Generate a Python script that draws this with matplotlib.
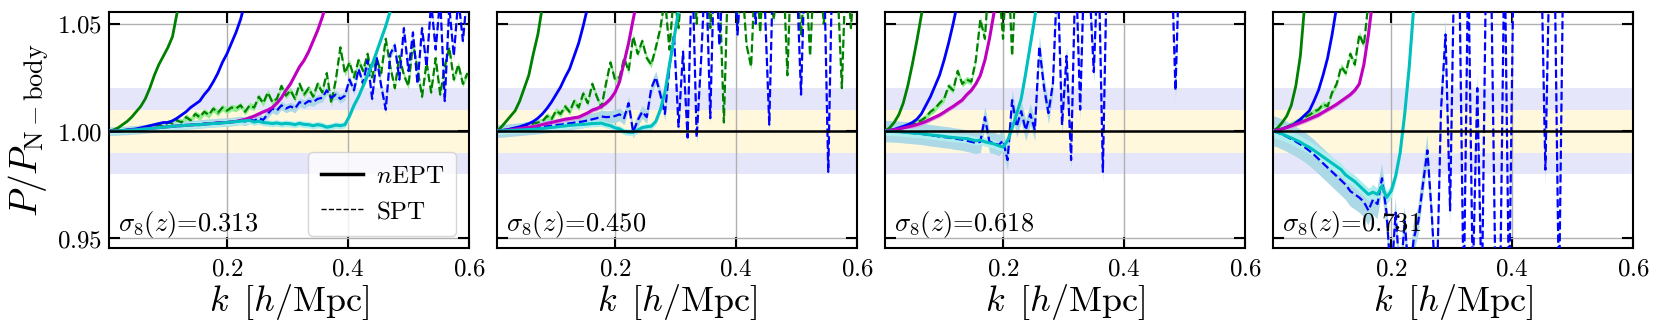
import numpy as np
import matplotlib
matplotlib.use('Agg')
import matplotlib.pyplot as plt
from matplotlib.lines import Line2D

plt.rcParams['mathtext.fontset'] = 'cm'
plt.rcParams['font.family'] = 'serif'

# k grid of the measured spectra (h/Mpc)
k = 0.005 + 0.0075 * np.arange(80)

sigma8 = ['0.313', '0.450', '0.618', '0.731']
xticks = [0.2, 0.4, 0.6]
xtick_labels = ['$0.2$', '$0.4$', '$0.6$']
yticks = [0.95, 1.0, 1.05]
ytick_labels = ['$0.95$', '$1.00$', '$1.05$']

# ---- panel 1, sigma8=0.313 ----
nept_g1 = [1.000, 1.0005, 1.0015, 1.003, 1.0045, 1.0065, 1.009, 1.0115, 1.015, 1.020,
           1.026, 1.031, 1.035, 1.039, 1.044, 1.055, 1.065]
nept_b1 = [1.0, 1.0, 1.0, 1.0003, 1.0005, 1.0008, 1.001, 1.0015, 1.002, 1.0025,
           1.003, 1.0035, 1.004, 1.004, 1.0048, 1.006, 1.0075, 1.009, 1.011, 1.0125,
           1.014, 1.017, 1.0195, 1.023, 1.027, 1.032, 1.036, 1.041, 1.046, 1.052, 1.06]
nept_m1 = [1.0, 1.0, 1.0001, 1.0002, 1.0003, 1.0005, 1.0006, 1.0008, 1.001, 1.0012,
           1.0014, 1.0016, 1.0018, 1.002, 1.0022, 1.0024, 1.0025, 1.0027, 1.0028, 1.003,
           1.003, 1.0032, 1.0034, 1.0036, 1.0037, 1.0039, 1.004, 1.0042, 1.0045, 1.005,
           1.0055, 1.0062, 1.007, 1.008, 1.009, 1.0098, 1.011, 1.013, 1.0155, 1.019,
           1.022, 1.026, 1.030, 1.033, 1.037, 1.042, 1.047, 1.053, 1.06]
nept_c1 = [1.0, 1.0, 1.0001, 1.0002, 1.0003, 1.0005, 1.0006, 1.0008, 1.001, 1.0012,
           1.0014, 1.0016, 1.0018, 1.002, 1.0022, 1.0024, 1.0025, 1.0027, 1.0028, 1.003,
           1.003, 1.0032, 1.0034, 1.0035, 1.0036, 1.0038, 1.004, 1.0042, 1.0044, 1.0046,
           1.0048, 1.005, 1.0042, 1.0046, 1.004, 1.0038, 1.0035, 1.0038, 1.0033, 1.0036,
           1.0034, 1.003, 1.0036, 1.0031, 1.003, 1.0025, 1.003, 1.0026, 1.0018, 1.0022,
           1.0028, 1.0025, 1.003, 1.007, 1.012, 1.016, 1.021, 1.026, 1.031, 1.037,
           1.043, 1.049, 1.056, 1.065]
spt_g1 = [1.0, 1.0, 1.0002, 1.0004, 1.0006, 1.0008, 1.001, 1.0013, 1.0016, 1.002,
          1.0025, 1.003, 1.002, 1.004, 1.0035, 1.005, 1.004, 1.0065, 1.005, 1.008,
          1.0065, 1.009, 1.0075, 1.0105, 1.0085, 1.011, 1.0095, 1.011, 1.0105, 1.012,
          1.009, 1.012, 1.011, 1.016, 1.013, 1.018, 1.0135, 1.015, 1.021, 1.0165,
          1.019, 1.015, 1.022, 1.017, 1.020, 1.016, 1.022, 1.018, 1.027, 1.013,
          1.024, 1.039, 1.027, 1.032, 1.025, 1.033, 1.028, 1.036, 1.025, 1.034,
          1.027, 1.043, 1.030, 1.020, 1.035, 1.026, 1.021, 1.041, 1.029, 1.016,
          1.032, 1.018, 1.034, 1.017, 1.030, 1.039, 1.024, 1.031, 1.022, 1.027]
spt_b1 = [1.0, 1.0, 1.0001, 1.0002, 1.0003, 1.0005, 1.0006, 1.0008, 1.001, 1.0012,
          1.0014, 1.0016, 1.0018, 1.002, 1.0022, 1.0024, 1.0027, 1.0028, 1.003, 1.0031,
          1.0033, 1.0035, 1.0037, 1.0038, 1.004, 1.0041, 1.0042, 1.0044, 1.0046, 1.005,
          1.0045, 1.0055, 1.0048, 1.006, 1.0052, 1.008, 1.0105, 1.0095, 1.012, 1.0105,
          1.0115, 1.0105, 1.0135, 1.0125, 1.014, 1.0135, 1.015, 1.0155, 1.019, 1.0155,
          1.017, 1.015, 1.0165, 1.024, 1.019, 1.029, 1.022, 1.033, 1.015, 1.034,
          1.021, 1.010, 1.036, 1.040, 1.024, 1.048, 1.028, 1.046, 1.022, 1.048,
          1.030, 1.060, 1.038, 1.062, 1.014, 1.058, 1.035, 1.062, 1.042, 1.065]

# ---- panel 2, sigma8=0.450 ----
nept_g2 = [1.0, 1.002, 1.0045, 1.007, 1.0095, 1.014, 1.02, 1.026, 1.036, 1.045, 1.058]
nept_b2 = [1.0, 1.0003, 1.0006, 1.001, 1.0015, 1.002, 1.0027, 1.0035, 1.0045, 1.006,
           1.008, 1.0105, 1.0135, 1.017, 1.0205, 1.025, 1.029, 1.035, 1.041, 1.049, 1.058]
nept_m2 = [1.0, 1.0002, 1.0004, 1.0006, 1.0009, 1.0012, 1.0015, 1.0018, 1.002, 1.0025,
           1.003, 1.0036, 1.004, 1.0045, 1.005, 1.0055, 1.0058, 1.0062, 1.0065, 1.0075,
           1.0085, 1.0098, 1.0105, 1.0115, 1.013, 1.015, 1.018, 1.023, 1.032, 1.041,
           1.052, 1.062]
nept_c2 = [1.0, 1.0001, 1.0002, 1.0003, 1.0004, 1.0005, 1.0006, 1.0007, 1.0008, 1.001,
           1.0012, 1.0014, 1.0017, 1.0019, 1.0022, 1.0024, 1.0027, 1.0028, 1.003, 1.0031,
           1.0033, 1.0035, 1.0036, 1.0037, 1.003, 1.0025, 1.0015, 1.001, 0.9998, 0.9995,
           0.9994, 1.0005, 1.0016, 1.002, 1.0023, 1.0045, 1.01, 1.018, 1.031, 1.043,
           1.056, 1.07]
spt_g2 = [1.0, 1.0003, 1.0007, 1.001, 1.0015, 1.002, 1.0027, 1.003, 1.0035, 1.004,
          1.0045, 1.007, 1.0055, 1.0095, 1.008, 1.0115, 1.009, 1.014, 1.011, 1.0175,
          1.013, 1.022, 1.016, 1.011, 1.022, 1.032, 1.024, 1.025, 1.034, 1.028,
          1.044, 1.036, 1.042, 1.034, 1.031, 1.039, 1.048, 1.062, 1.038, 1.065,
          1.048, 1.075, 1.06, 1.08, 1.05, 1.085, 1.075, 1.048, 1.08, 1.07,
          1.004, 1.08, 1.075, 1.05, 1.07, 1.04, 1.03, 1.08, 1.046, 1.085,
          1.07, 1.052, 1.075, 1.08, 1.026, 1.09, 1.07, 1.045, 1.075, 1.035,
          1.08, 1.085, 1.05, 1.08, 1.09, 1.07, 1.02, 1.085, 1.048, 1.08]
spt_b2 = [1.0, 1.0001, 1.0003, 1.0005, 1.0007, 1.0009, 1.0011, 1.0013, 1.0015, 1.0017,
          1.002, 1.0022, 1.0025, 1.0028, 1.003, 1.0033, 1.0036, 1.0039, 1.0042, 1.0045,
          1.005, 1.0055, 1.006, 1.0068, 1.0065, 1.0066, 1.007, 1.0078, 1.006, 1.013,
          0.9995, 1.005, 1.009, 1.0065, 1.02, 1.025, 1.017, 1.008, 1.03, 1.045,
          1.002, 1.037, 0.997, 1.08, 0.997, 1.034, 1.08, 1.006, 1.09, 1.04,
          1.08, 1.06, 1.09, 1.045, 1.08, 1.07, 1.09, 1.05, 1.085, 1.06,
          1.003, 1.09, 1.07, 1.085, 1.08, 1.09, 1.075, 1.017, 1.09, 1.075,
          1.09, 1.08, 1.085, 0.981, 1.09, 1.07, 1.085, 1.09, 1.06, 1.08]

# ---- panel 3, sigma8=0.618 ----
nept_g3 = [1.0, 1.0015, 1.004, 1.0075, 1.013, 1.021, 1.031, 1.042, 1.054, 1.068]
nept_b3 = [1.0, 1.0003, 1.0008, 1.0015, 1.0022, 1.003, 1.004, 1.0055, 1.008, 1.012,
           1.016, 1.021, 1.026, 1.033, 1.041, 1.05, 1.06]
nept_m3 = [1.0, 1.0003, 1.0006, 1.001, 1.0014, 1.0019, 1.0024, 1.003, 1.0037, 1.0045,
           1.0055, 1.0065, 1.0075, 1.0088, 1.0102, 1.0115, 1.013, 1.0145, 1.017, 1.019,
           1.022, 1.026, 1.033, 1.043, 1.055, 1.068]
nept_c3 = [1.0, 0.9999, 0.9998, 0.9997, 0.9995, 0.9993, 0.9991, 0.999, 0.9988, 0.9985,
           0.9982, 0.998, 0.9978, 0.9975, 0.9972, 0.997, 0.9968, 0.9966, 0.9965, 0.996,
           0.9955, 0.9958, 0.995, 0.9945, 0.994, 0.9932, 0.9925, 0.9955, 1.0015, 1.008,
           1.015, 1.027, 1.04, 1.053, 1.068]
spt_g3 = [1.0, 1.0003, 1.0007, 1.001, 1.0015, 1.002, 1.003, 1.004, 1.005, 1.0065,
          1.009, 1.0105, 1.013, 1.015, 1.021, 1.019, 1.028, 1.022, 1.024, 1.023,
          1.033, 1.052, 1.043, 1.075, 1.08, 1.07, 1.043, 1.085, 1.035, 1.08, 1.09]
spt_b3 = [1.0, 0.9999, 0.9998, 0.9997, 0.9995, 0.9993, 0.9991, 0.9989, 0.9987, 0.9984,
          0.998, 0.9978, 0.9975, 0.9972, 0.997, 0.9966, 0.9963, 0.996, 0.9955, 0.995,
          0.9945, 0.995, 1.0065, 0.995, 0.9945, 0.9935, 0.9955, 0.9865, 1.0144, 1.002,
          1.0093, 1.0005, 1.0079, 1.0005, 1.0395, 1.0207, 1.0084, 1.0223, 1.075, 1.0028,
          1.035, 0.9865, 1.08, 1.01, 1.085, 1.07, 1.0275, 1.085, 0.981, 1.09,
          1.085, 1.09, 1.08, 1.09, 1.085, 1.09, 1.08, 1.09, 1.085, 1.09,
          1.08, 1.09, 1.085, 1.09, 1.0189, 1.09]

# ---- panel 4, sigma8=0.731 ----
nept_g4 = [1.0, 1.0015, 1.004, 1.007, 1.012, 1.021, 1.035, 1.06]
nept_b4 = [1.0, 1.0004, 1.001, 1.0017, 1.0025, 1.0038, 1.0055, 1.0075, 1.0095, 1.014,
           1.019, 1.026, 1.034, 1.045, 1.058]
nept_m4 = [1.0, 1.0005, 1.001, 1.0017, 1.0024, 1.0032, 1.004, 1.0048, 1.0057, 1.0066,
           1.0075, 1.0088, 1.01, 1.0112, 1.0125, 1.014, 1.0155, 1.017, 1.019, 1.022,
           1.031, 1.045, 1.062]
nept_c4 = [1.0, 0.9994, 0.9986, 0.9977, 0.9968, 0.9958, 0.9948, 0.9935, 0.9924, 0.991,
           0.9895, 0.988, 0.9865, 0.985, 0.9835, 0.982, 0.9795, 0.978, 0.9765, 0.9745,
           0.9725, 0.9705, 0.9715, 0.9705, 0.9745, 0.969, 0.972, 0.979, 0.99, 1.008,
           1.03, 1.058]
spt_g4 = [1.0, 1.0005, 1.0012, 1.002, 1.003, 1.004, 1.0052, 1.0065, 1.0075, 1.009,
          1.01, 1.0125, 1.0115, 1.018, 1.022, 1.03, 1.027, 1.036, 1.031, 1.045,
          1.04, 1.06]
spt_b4 = [1.0, 0.9993, 0.9984, 0.9974, 0.9963, 0.9951, 0.9938, 0.9924, 0.9908, 0.989,
          0.987, 0.985, 0.983, 0.981, 0.979, 0.977, 0.975, 0.972, 0.9705, 0.969,
          0.967, 0.963, 0.968, 0.966, 0.978, 0.962, 0.93, 0.962, 0.93, 0.958,
          0.93, 0.95, 0.958, 0.975, 0.991, 0.96, 0.92, 1.01, 1.045, 0.963,
          1.09, 1.08, 0.92, 1.08, 0.93, 1.02, 0.92, 1.09, 1.08, 0.93,
          0.92, 1.09, 0.92, 1.08, 1.085, 1.09, 1.07, 1.09, 1.085, 1.09,
          0.982, 1.09, 1.085, 0.92, 1.09, 1.09]

# half-width of the shaded uncertainty bands, per panel
err_m = [0.0008, 0.001, 0.001, 0.001]
err_c = [0.0015, 0.0015, 0.002, 0.003]
err_g = [0.0015, 0.0015, 0.0015, 0.0015]
err_b = [0.002, 0.003, 0.005, 0.007]

nept = [(nept_g1, nept_b1, nept_m1, nept_c1), (nept_g2, nept_b2, nept_m2, nept_c2),
        (nept_g3, nept_b3, nept_m3, nept_c3), (nept_g4, nept_b4, nept_m4, nept_c4)]
spt = [(spt_g1, spt_b1), (spt_g2, spt_b2), (spt_g3, spt_b3), (spt_g4, spt_b4)]


def curve(ax, y, color, ls, lw, err=0, fill=None):
    y = np.asarray(y)
    kk = k[:len(y)]
    if err:
        ax.fill_between(kk, y - err, y + err, color=fill, lw=0, zorder=2)
    ax.plot(kk, y, color=color, ls=ls, lw=lw, zorder=3)


fig, axes = plt.subplots(1, 4, figsize=(16.61, 3.35), dpi=100, sharey=True)
fig.subplots_adjust(left=0.0656, right=0.9832, top=0.9642, bottom=0.2597, wspace=0.078)

for i, ax in enumerate(axes):
    ax.axhspan(0.98, 1.02, color='#e6e6fa', lw=0, zorder=0)
    ax.axhspan(0.99, 1.01, color='#fff8dc', lw=0, zorder=0)
    g, b, m, c = nept[i]
    sg, sb = spt[i]
    curve(ax, sg, 'g', '--', 1.6, err_g[i], 'lightgreen')
    curve(ax, sb, 'b', '--', 1.6, err_b[i], 'lightblue')
    curve(ax, g, 'g', '-', 2.0)
    curve(ax, b, 'b', '-', 2.0)
    curve(ax, m, 'm', '-', 2.2, err_m[i], 'plum')
    curve(ax, c, 'c', '-', 2.2, err_c[i], 'paleturquoise')
    ax.axhline(1.0, color='k', lw=1.8, zorder=4)

    ax.set_xlim(0.005, 0.6)
    ax.set_ylim(0.9455, 1.0555)
    ax.set_xticks(xticks, labels=xtick_labels)
    ax.set_yticks(yticks, labels=ytick_labels)
    ax.grid(True, color='#b0b0b0', lw=1)
    ax.tick_params(direction='in', length=8, width=1.5, top=True, right=True,
                   labelsize=18, pad=7)
    ax.tick_params(axis='y', pad=5)
    for s in ax.spines.values():
        s.set_linewidth(1.5)
    ax.set_xlabel(r'$k\ \,[h/\mathrm{Mpc}]$', fontsize=26, labelpad=1)
    ax.text(0.025, 0.07, r'$\sigma_8(z)$=' + sigma8[i], transform=ax.transAxes,
            family='cmr10', fontsize=19, zorder=5)
    if i > 0:
        ax.tick_params(labelleft=False)

axes[0].set_ylabel(r'$P/P_{\mathrm{N-body}}$', fontsize=27, labelpad=4)
handles = [Line2D([], [], color='k', lw=2.5, ls='-'),
           Line2D([], [], color='k', lw=1.0, ls='--')]
axes[0].legend(handles, [r'$n\mathrm{EPT}$', r'$\mathrm{SPT}$'], loc='lower right',
               fontsize=18, handlelength=1.7, handletextpad=0.5, borderpad=0.5)

fig.savefig('out.png', dpi=100)
